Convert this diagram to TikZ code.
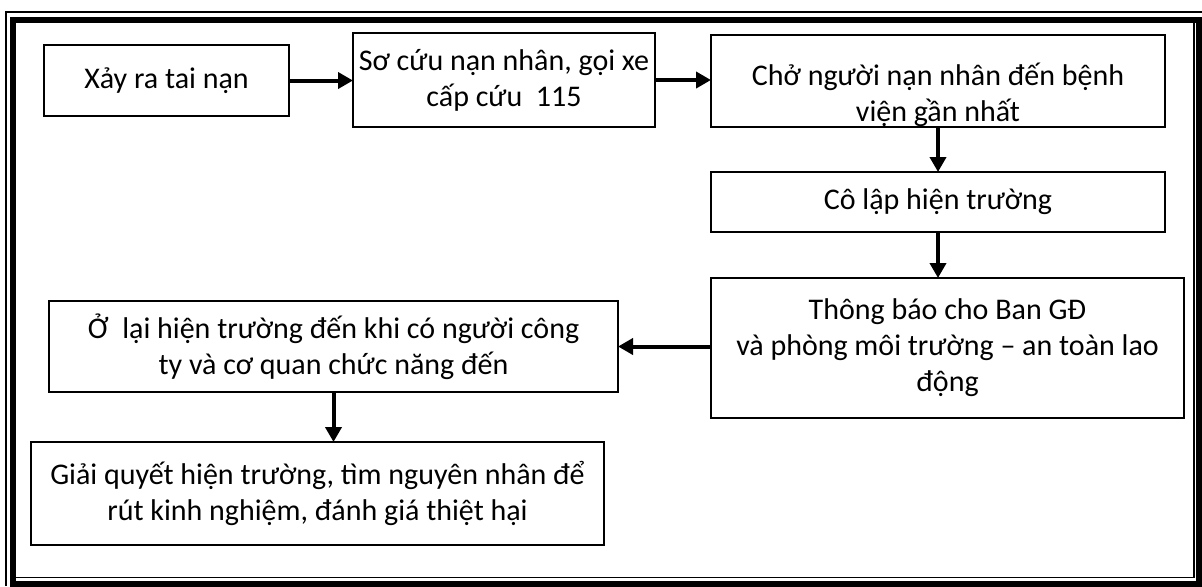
\documentclass[tikz,border=0pt]{standalone}
\usepackage{fontspec}
\setmainfont{Carlito}
\usetikzlibrary{arrows.meta}

\begin{document}
\begin{tikzpicture}[x=0.5pt,y=-0.5pt,
  stepbox/.style={draw=black, line width=1pt, inner sep=0pt, outer sep=0pt,
    align=center, font=\fontsize{15}{18}\selectfont},
  flow/.style={line width=2pt, -{Triangle[length=7.5pt,width=8pt]}},
  thinrule/.style={line width=0.75pt},
  thickrule/.style={line width=3pt}]

\useasboundingbox (0,0) rectangle (1202,586);

% double page border: thin-thick
\draw[thickrule] (13,19.5) rectangle (1199,583.5);
\draw[thinrule] (6,586) -- (6,12) -- (1202,12);
\draw[thinrule] (16,577.5) -- (1194,577.5) -- (1194,23);

% process steps
\node[stepbox, minimum width=122.5pt, minimum height=35.5pt] (b1) at (166.5,80.5)
  {Xảy ra tai nạn};
\node[stepbox, minimum width=151pt, minimum height=47pt] (b2) at (504,80)
  {Sơ cứu nạn nhân, gọi xe\\cấp cứu\ \ 115};
\node[stepbox, minimum width=227pt, minimum height=46pt] (b3) at (938,81) {};
\node[stepbox, draw=none, minimum width=0pt, minimum height=0pt] (t3)
  at ([yshift=-7pt]b3.center)
  {Chở người nạn nhân đến bệnh\\viện gần nhất};
\node[stepbox, minimum width=227pt, minimum height=30pt] (b4) at (938,202)
  {Cô lập hiện trường};
\node[stepbox, minimum width=236.5pt, minimum height=70pt] (b5) at (947.5,348)
  {Thông báo cho Ban GĐ\\và phòng môi trường – an toàn lao\\động};
\node[stepbox, minimum width=284.5pt, minimum height=45.5pt] (b6) at (333.5,346.5)
  {Ở\ \ lại hiện trường đến khi có người công\\ty và cơ quan chức năng đến};
\node[stepbox, minimum width=286.5pt, minimum height=51.5pt] (b7) at (317.5,493.5)
  {Giải quyết hiện trường, tìm nguyên nhân để\\rút kinh nghiệm, đánh giá thiệt hại};

% connectors
\draw[flow] (b1.east) -- (b1.east -| b2.west);
\draw[flow] (b2.east) -- (b2.east -| b3.west);
\draw[flow] (b3.south) -- (b4.north);
\draw[flow] (b4.south) -- (b4.south |- b5.north);
\draw[flow] (b6.east -| b5.west) -- (b6.east);
\draw[flow] (b6.south) -- (b6.south |- b7.north);
\end{tikzpicture}
\end{document}
